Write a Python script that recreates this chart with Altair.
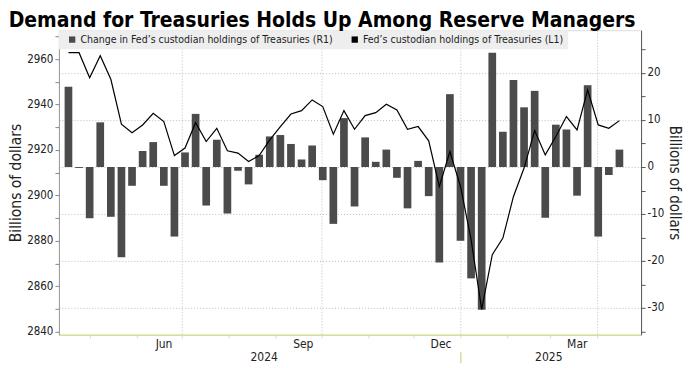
import altair as alt
import pandas as pd

# ---- data (weekly, Wednesdays) ----
start_date = "2024-04-17"
n_weeks = 53

change = [17.1, -0.2, -10.9, 9.5, -10.6, -19.2, -4.0, 3.4, 5.3, -4.0,
          -14.8, 3.1, 11.3, -8.2, 5.8, -9.9, -0.8, -3.7, 2.6, 6.5,
          6.8, 4.9, 1.6, 4.6, -2.8, -12.1, 10.4, -8.4, 6.3, 1.1,
          3.7, -2.3, -8.8, 1.3, -6.2, -20.3, 15.5, -15.7, -23.7, -30.4,
          24.3, 7.5, 18.5, 12.7, 16.2, -10.8, 9.0, 8.0, -6.1, 17.4,
          -14.8, -1.7, 3.7]

holdings = [2962.8, 2962.8, 2951.8, 2961.5, 2951.1, 2931.3, 2927.6, 2931.0, 2936.1, 2932.5,
            2917.5, 2920.8, 2932.0, 2923.7, 2929.5, 2919.6, 2918.6, 2914.9, 2917.5, 2924.4,
            2930.3, 2935.8, 2937.3, 2942.0, 2939.1, 2926.9, 2937.3, 2929.1, 2935.1, 2936.4,
            2940.1, 2937.6, 2929.1, 2930.3, 2924.0, 2903.9, 2919.3, 2903.9, 2880.5, 2849.8,
            2873.9, 2881.2, 2899.5, 2912.0, 2928.5, 2917.8, 2925.9, 2934.7, 2928.8, 2946.4,
            2931.0, 2929.5, 2932.9]

SERIES_CHANGE = "Change in Fed\u2019s custodian holdings of Treasuries (R1)"
SERIES_HOLD = "Fed\u2019s custodian holdings of Treasuries (L1)"
TITLE = "Demand for Treasuries Holds Up Among Reserve Managers"
Y_TITLE = "Billions of dollars"

month_starts = [(2024, 5), (2024, 6), (2024, 7), (2024, 8), (2024, 9), (2024, 10),
                (2024, 11), (2024, 12), (2025, 1), (2025, 2), (2025, 3), (2025, 4)]
year_marks = [(2024, 8, 24), (2025, 1, 1), (2025, 2, 28)]

left_ticks = list(range(2840, 2971, 10))
right_ticks = list(range(-35, 26, 5))

FONT = "DejaVu Sans Condensed, DejaVu Sans, sans-serif"
AXIS_GREEN = "#d3e09a"

df = pd.DataFrame({
    "date": pd.date_range(start_date, periods=n_weeks, freq="7D"),
    "change": change,
    "holdings": holdings,
    "series": SERIES_CHANGE,
})

x_domain = [alt.DateTime(year=2024, month=4, date=14),
            alt.DateTime(year=2025, month=4, date=27)]
x_scale = alt.Scale(domain=x_domain)

month_axis = alt.Axis(
    orient="bottom",
    title=None,
    values=[alt.DateTime(year=y, month=m, date=1) for y, m in month_starts],
    labelExpr="indexof([5, 8, 11, 2], month(datum.value)) >= 0 ? timeFormat(datum.value, '%b') : ''",
    labelOffset=27,
    labelFlush=False,
    labelOverlap=False,
    labelPadding=1,
    labelFont=FONT,
    labelFontSize=12,
    labelColor="#222222",
    tickSize=3,
    tickColor=AXIS_GREEN,
    domainColor=AXIS_GREEN,
    domainWidth=1.5,
    grid=True,
    gridColor="#bdbdbd",
    gridDash=[1, 2],
    gridOpacity={"condition": {"test": "month(datum.value) % 3 == 0", "value": 1}, "value": 0},
)

year_axis = alt.Axis(
    orient="bottom",
    title=None,
    values=[alt.DateTime(year=y, month=m, date=d) for y, m, d in year_marks],
    labelExpr="(month(datum.value) == 0 && date(datum.value) == 1) ? '' : timeFormat(datum.value, '%Y')",
    labelFlush=False,
    labelOverlap=False,
    labelFont=FONT,
    labelFontSize=12,
    labelColor="#222222",
    labelPadding=-11,
    domain=False,
    grid=False,
    tickSize=28,
    tickColor=AXIS_GREEN,
    tickWidth=1.5,
    tickDash=[0, 17, 11, 40],
    tickOpacity={"condition": {"test": "month(datum.value) == 0 && date(datum.value) == 1", "value": 1}, "value": 0},
)

bars = alt.Chart(df).mark_bar(size=7.7).encode(
    x=alt.X("date:T", scale=x_scale, axis=month_axis),
    y=alt.Y(
        "change:Q",
        scale=alt.Scale(domain=[-35.7, 29.1], nice=False, zero=False),
        axis=alt.Axis(
            orient="right",
            title=Y_TITLE,
            titleFont=FONT,
            titleFontSize=15,
            titleFontWeight="normal",
            titleColor="#222222",
            titlePadding=3,
            values=right_ticks,
            labelExpr="datum.value % 10 == 0 ? (datum.value < 0 ? '-' + abs(datum.value) : '' + datum.value) : ''",
            labelOverlap=False,
            labelFont=FONT,
            labelFontSize=11.5,
            labelColor="#222222",
            labelPadding=2,
            tickSize=4,
            tickColor="#555555",
            domainColor="#555555",
            grid=True,
            gridColor="#bdbdbd",
            gridDash=[1, 2],
            gridOpacity={"condition": {"test": "datum.value % 10 == 0", "value": 1}, "value": 0},
        ),
    ),
    color=alt.Color(
        "series:N",
        scale=alt.Scale(domain=[SERIES_CHANGE, SERIES_HOLD], range=["#4b4b4b", "#000000"]),
        legend=alt.Legend(
            title=None,
            orient="top-left",
            direction="horizontal",
            offset=0,
            padding=4,
            fillColor="#eeeeee",
            symbolType="square",
            symbolSize=40,
            symbolOffset=4,
            symbolStrokeWidth=0,
            labelFont=FONT,
            labelFontSize=10.5,
            labelColor="#222222",
            labelLimit=400,
            labelOffset=3,
            columnPadding=12,
        ),
    ),
)

line = alt.Chart(df).mark_line(color="black", strokeWidth=1.2).encode(
    x=alt.X("date:T", scale=x_scale, axis=year_axis),
    y=alt.Y(
        "holdings:Q",
        scale=alt.Scale(domain=[2838.6, 2972.7], nice=False, zero=False),
        axis=alt.Axis(
            orient="left",
            title=Y_TITLE,
            titleFont=FONT,
            titleFontSize=15.5,
            titleFontWeight="normal",
            titleColor="#222222",
            titlePadding=3,
            values=left_ticks,
            labelExpr="datum.value % 20 == 0 ? '' + datum.value : ''",
            labelOverlap=False,
            labelFont=FONT,
            labelFontSize=11.5,
            labelColor="#222222",
            labelPadding=2,
            tickSize=4,
            tickColor="#888888",
            domainColor="#999999",
            grid=False,
        ),
    ),
)

chart = (
    alt.layer(bars, line)
    .resolve_scale(y="independent")
    .resolve_axis(x="independent", y="independent")
    .properties(
        width=583,
        height=305,
        padding={"top": 2, "left": 0, "right": 4, "bottom": 0},
        title=alt.TitleParams(
            TITLE,
            anchor="start",
            frame="bounds",
            font=FONT,
            fontSize=21,
            fontWeight="bold",
            color="#000000",
            offset=-1,
        ),
    )
    .configure_view(stroke=None)
    .configure(background="white")
)

chart.save("out.html", embed_options={"renderer": "svg", "actions": False})
